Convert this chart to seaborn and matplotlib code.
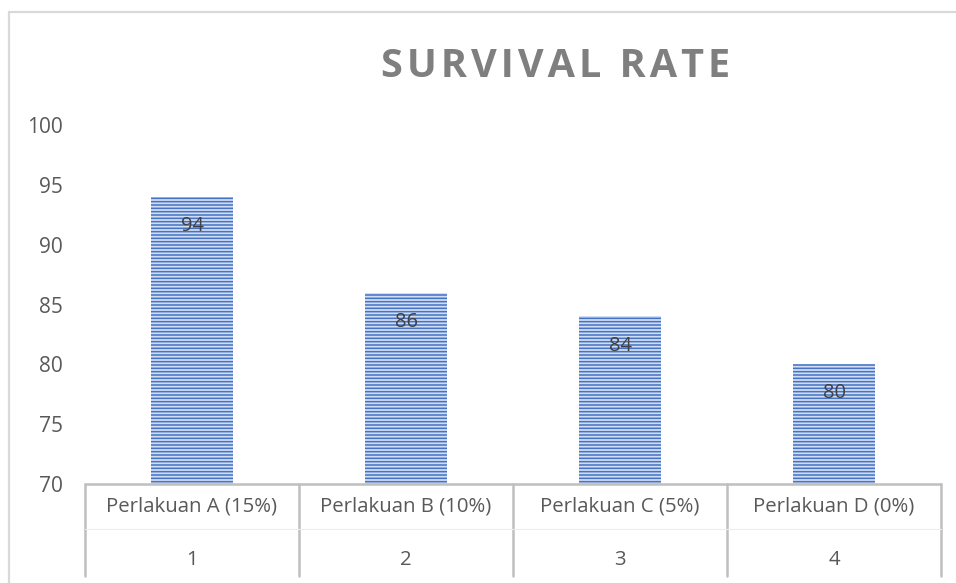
import matplotlib
matplotlib.use("Agg")
import matplotlib.pyplot as plt
import matplotlib.transforms as mtransforms
from matplotlib.lines import Line2D
import seaborn as sns

# Data
categories = ["Perlakuan A (15%)", "Perlakuan B (10%)", "Perlakuan C (5%)", "Perlakuan D (0%)"]
group_numbers = ["1", "2", "3", "4"]
survival = [94, 86, 84, 80]
y_ticks = [70, 75, 80, 85, 90, 95, 100]

sns.set_style("white")
plt.rcParams["font.family"] = ["Open Sans", "DejaVu Sans"]
plt.rcParams["hatch.linewidth"] = 1.1
plt.rcParams["hatch.color"] = "#4472c4"

fig = plt.figure(figsize=(9.56, 5.83), dpi=100)
ax = fig.add_axes([85 / 956, 1 - 484 / 583, (941 - 85) / 956, (484 - 125) / 583])

sns.barplot(x=categories, y=survival, color="#d0ddf3", width=0.38,
            edgecolor="#4472c4", linewidth=0, saturation=1, ax=ax)
for p in ax.patches:
    p.set_hatch("-----")
    p.set_edgecolor("#4472c4")

# Etiquetas de valores dentro de las barras
for i, v in enumerate(survival):
    ax.annotate(str(v), (i, v), xytext=(0, -21), textcoords="offset points",
                ha="center", va="center", fontsize=14.5, color="#404040")

ax.set_xlim(-0.5, len(categories) - 0.5)
ax.set_ylim(70, 100)
ax.set_yticks(y_ticks)
ax.set_yticklabels([str(t) for t in y_ticks], fontsize=15, color="#595959")
ax.set_xticks([])
ax.tick_params(axis="y", length=0, pad=16)
ax.set_xlabel("")
ax.set_ylabel("")
for s in ax.spines.values():
    s.set_visible(False)

# Tabla de categorías bajo el eje
trans = mtransforms.blended_transform_factory(ax.transData, ax.transAxes)
grid_col = "#bfbfbf"
n = len(categories)
ax.add_line(Line2D([-0.5, n - 0.5], [0, 0], transform=trans, color=grid_col,
                   lw=1.8, clip_on=False))
for b in range(n + 1):
    ax.add_line(Line2D([b - 0.5, b - 0.5], [0, -0.255], transform=trans,
                       color=grid_col, lw=1.8, clip_on=False))
ax.add_line(Line2D([-0.5, n - 0.5], [-0.125, -0.125], transform=trans,
                   color="#ededed", lw=0.8, clip_on=False))
for i, (cat, num) in enumerate(zip(categories, group_numbers)):
    ax.text(i, -0.064, cat, transform=trans, ha="center", va="center",
            fontsize=14.7, color="#595959", clip_on=False)
    ax.text(i, -0.212, num, transform=trans, ha="center", va="center",
            fontsize=14.7, color="#595959", clip_on=False)

# Título
fig.text(556 / 956, 1 - 77 / 583, "\u200a".join("SURVIVAL RATE"), ha="center",
         va="baseline", fontsize=28.5, fontweight="bold", color="#7f7f7f")

# Borde exterior
border = "#d9d9d9"
fig.add_artist(Line2D([9 / 956, 9 / 956], [0, 1 - 12 / 583], transform=fig.transFigure,
                      color=border, lw=1.6))
fig.add_artist(Line2D([9 / 956, 1], [1 - 12 / 583, 1 - 12 / 583], transform=fig.transFigure,
                      color=border, lw=1.6))

fig.savefig("out.png", dpi=100)
